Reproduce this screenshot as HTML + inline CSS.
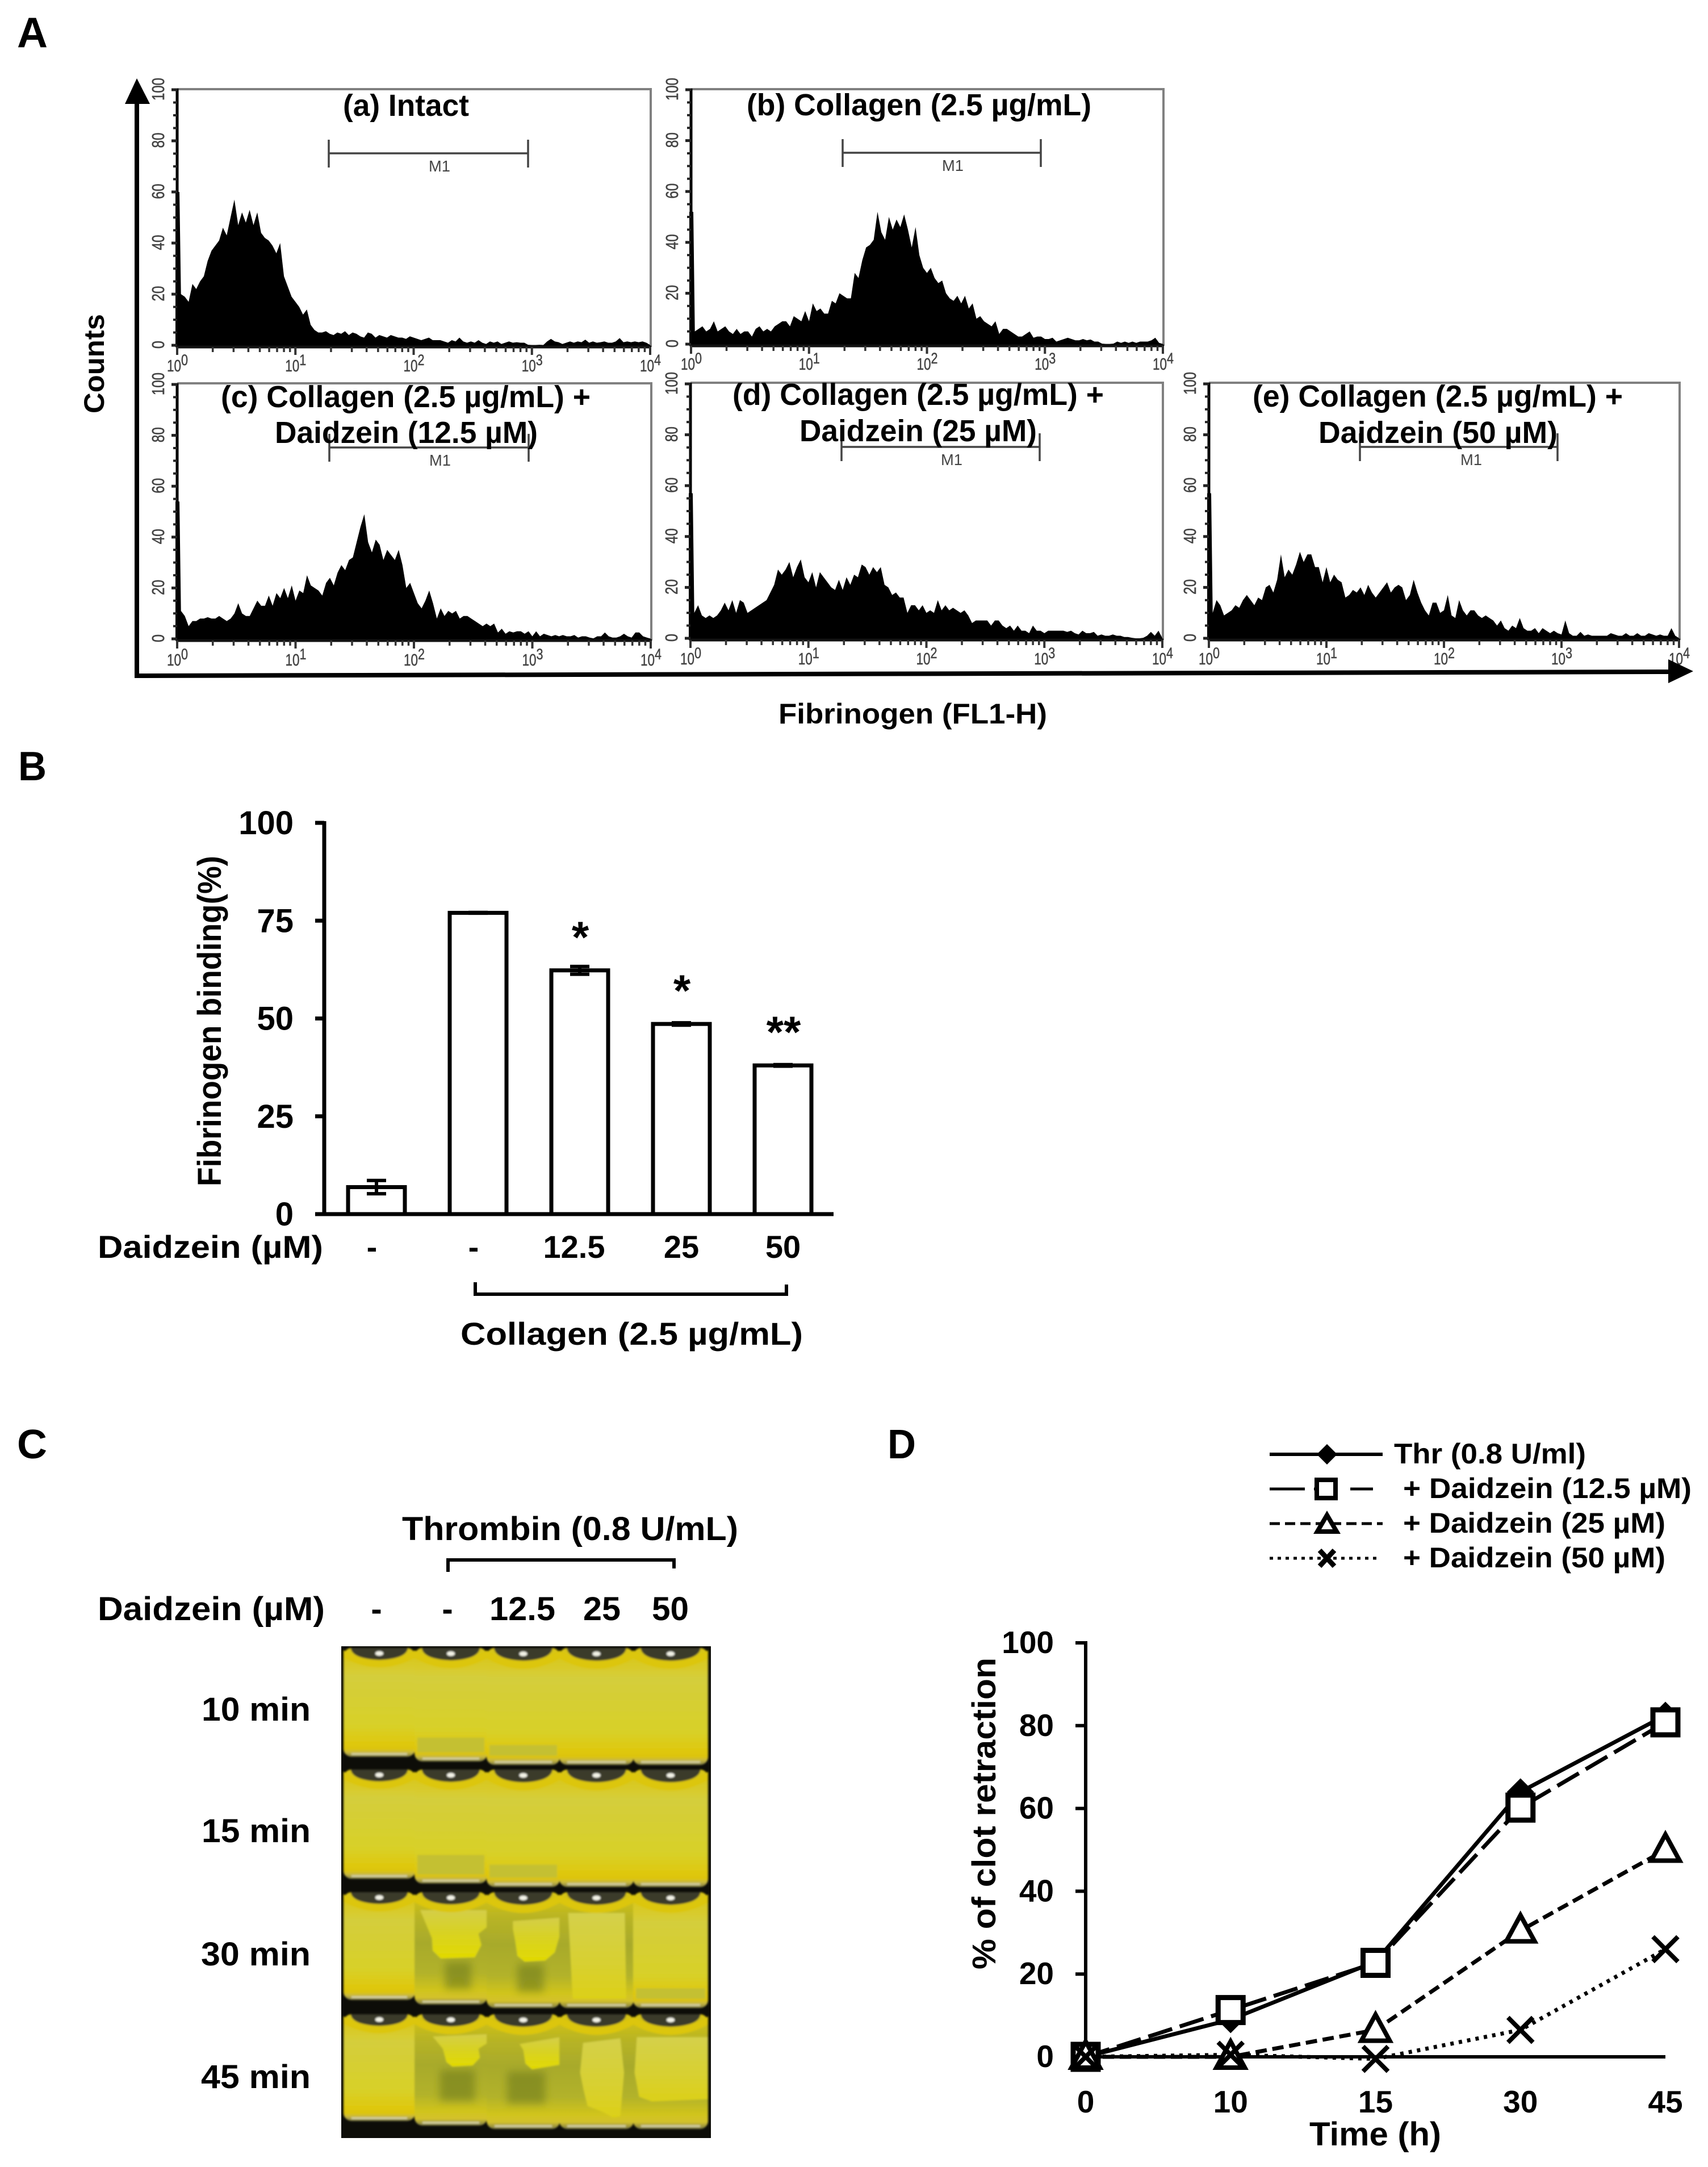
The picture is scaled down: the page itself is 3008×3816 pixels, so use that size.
<!DOCTYPE html>
<html lang="en">
<head>
<meta charset="utf-8">
<title>Daidzein fibrinogen binding and clot retraction figure</title>
<style>
html,body{margin:0;padding:0;background:#fff}
svg{display:block;font-family:"Liberation Sans",sans-serif}
.bold{font-weight:700;fill:#000}
</style>
</head>
<body>
<svg id="figure" xmlns="http://www.w3.org/2000/svg" width="3008" height="3816" viewBox="0 0 3008 3816">
<defs>
<linearGradient id="plainVial" x1="0" y1="0" x2="0" y2="1">
<stop offset="0" stop-color="#d8c410"/><stop offset=".2" stop-color="#d8cc30"/><stop offset=".26" stop-color="#d4ce3c"/>
<stop offset=".72" stop-color="#d8d028"/><stop offset=".88" stop-color="#dfc80e"/><stop offset=".93" stop-color="#dcc410"/><stop offset=".96" stop-color="#c8b840"/><stop offset="1" stop-color="#7c7a48"/>
</linearGradient>
<linearGradient id="clearVial" x1="0" y1="0" x2="0" y2="1">
<stop offset="0" stop-color="#d8c410"/><stop offset=".22" stop-color="#b8b424"/><stop offset=".45" stop-color="#a8aa2c"/>
<stop offset=".72" stop-color="#b2b22a"/><stop offset=".87" stop-color="#d0c41c"/><stop offset=".94" stop-color="#d4c22c"/><stop offset="1" stop-color="#7c7a48"/>
</linearGradient>
<linearGradient id="clotFill" x1="0" y1="0" x2="0" y2="1">
<stop offset="0" stop-color="#d4ce48"/><stop offset=".45" stop-color="#d8d224"/><stop offset="1" stop-color="#e2da00"/>
</linearGradient>
<linearGradient id="paleClot" x1="0" y1="0" x2="0" y2="1">
<stop offset="0" stop-color="#d4d04a"/><stop offset=".6" stop-color="#d8d030"/><stop offset="1" stop-color="#dcd018"/>
</linearGradient>
<filter id="photoSoften" x="-2%" y="-2%" width="104%" height="104%"><feGaussianBlur stdDeviation="1.6"/></filter>
<filter id="serumSoften" x="-30%" y="-30%" width="160%" height="160%"><feGaussianBlur stdDeviation="7"/></filter>
</defs>
<g id="panel-a">
<text class="bold" x="30" y="83" font-size="75" textLength="54" lengthAdjust="spacingAndGlyphs">A</text>
<g id="histograms"></g>
<text class="bold" transform="translate(183,728) rotate(-90)" font-size="50" textLength="175" lengthAdjust="spacingAndGlyphs">Counts</text>
<text class="bold" x="1371" y="1274" font-size="50" textLength="473" lengthAdjust="spacingAndGlyphs">Fibrinogen (FL1-H)</text>
<line x1="241" y1="1192" x2="241" y2="175" stroke="#000" stroke-width="8"/>
<polygon points="241,138 264,183 220,183" fill="#000"/>
<line x1="237" y1="1190" x2="2945" y2="1183" stroke="#000" stroke-width="8"/>
<polygon points="2982,1182 2938,1161 2938,1203" fill="#000"/>
</g>
<g id="panel-b">
<text class="bold" x="32" y="1374" font-size="72" textLength="50" lengthAdjust="spacingAndGlyphs">B</text>
<text class="bold" transform="translate(389,2089) rotate(-90)" font-size="58" textLength="582" lengthAdjust="spacingAndGlyphs">Fibrinogen binding(%)</text>
<text class="bold" x="172" y="2215" font-size="56" textLength="397" lengthAdjust="spacingAndGlyphs">Daidzein (µM)</text>
<path d="M837 2258V2279H1385V2262" fill="none" stroke="#000" stroke-width="6"/>
<text class="bold" x="811" y="2368" font-size="56" textLength="603" lengthAdjust="spacingAndGlyphs">Collagen (2.5 µg/mL)</text>
</g>
<g id="panel-c">
<text class="bold" x="30" y="2568" font-size="72" textLength="53" lengthAdjust="spacingAndGlyphs">C</text>
<text class="bold" x="708" y="2712" font-size="58" textLength="592" lengthAdjust="spacingAndGlyphs">Thrombin (0.8 U/mL)</text>
<path d="M789 2768V2747H1187V2762" fill="none" stroke="#000" stroke-width="6"/>
<text class="bold" x="172" y="2853" font-size="58" textLength="400" lengthAdjust="spacingAndGlyphs">Daidzein (µM)</text>
<text class="bold" x="663" y="2853" font-size="58" text-anchor="middle">-</text>
<text class="bold" x="788" y="2853" font-size="58" text-anchor="middle">-</text>
<text class="bold" x="862" y="2853" font-size="58" textLength="116" lengthAdjust="spacingAndGlyphs">12.5</text>
<text class="bold" x="1027" y="2853" font-size="58" textLength="66" lengthAdjust="spacingAndGlyphs">25</text>
<text class="bold" x="1148" y="2853" font-size="58" textLength="65" lengthAdjust="spacingAndGlyphs">50</text>
<text class="bold" x="355" y="3030" font-size="58" textLength="192" lengthAdjust="spacingAndGlyphs">10 min</text>
<text class="bold" x="355" y="3244" font-size="58" textLength="192" lengthAdjust="spacingAndGlyphs">15 min</text>
<text class="bold" x="354" y="3461" font-size="58" textLength="193" lengthAdjust="spacingAndGlyphs">30 min</text>
<text class="bold" x="354" y="3677" font-size="58" textLength="193" lengthAdjust="spacingAndGlyphs">45 min</text>
<rect x="601" y="2899" width="651" height="866" fill="#0d0d08"/>
<g id="vials" filter="url(#photoSoften)"></g>
</g>
<g id="panel-d">
<text class="bold" x="1563" y="2568" font-size="72" textLength="50" lengthAdjust="spacingAndGlyphs">D</text>
<text class="bold" transform="translate(1753,3468) rotate(-90)" font-size="58" textLength="549" lengthAdjust="spacingAndGlyphs">% of clot retraction</text>
<text class="bold" x="2306" y="3778" font-size="58" textLength="232" lengthAdjust="spacingAndGlyphs">Time (h)</text>
<g>
<g>
<line x1="2236" y1="2561" x2="2435" y2="2561" stroke="#000" stroke-width="6"/>
<polygon points="2337,2543 2355,2561 2337,2579 2319,2561" fill="#000"/>
<text class="bold" x="2455" y="2577" font-size="50" textLength="338" lengthAdjust="spacingAndGlyphs">Thr (0.8 U/ml)</text>
</g>
<g>
<line x1="2236" y1="2622" x2="2435" y2="2622" stroke="#000" stroke-width="5" stroke-dasharray="62 16 40 24 40"/>
<rect x="2319" y="2606" width="33" height="32" fill="#fff" stroke="#000" stroke-width="8"/>
<text class="bold" x="2471" y="2638" font-size="50" textLength="508" lengthAdjust="spacingAndGlyphs">+ Daidzein (12.5 µM)</text>
</g>
<g>
<line x1="2236" y1="2683" x2="2435" y2="2683" stroke="#000" stroke-width="5" stroke-dasharray="18 9"/>
<polygon points="2337,2668 2354,2697 2320,2697" fill="#fff" stroke="#000" stroke-width="8"/>
<text class="bold" x="2471" y="2699" font-size="50" textLength="462" lengthAdjust="spacingAndGlyphs">+ Daidzein (25 µM)</text>
</g>
<g>
<line x1="2236" y1="2744" x2="2430" y2="2744" stroke="#000" stroke-width="5" stroke-dasharray="6 8"/>
<path d="M2324 2730L2350 2758M2350 2730L2324 2758" stroke="#000" stroke-width="9"/>
<text class="bold" x="2471" y="2760" font-size="50" textLength="462" lengthAdjust="spacingAndGlyphs">+ Daidzein (50 µM)</text>
</g>
</g>
</g>
<g id="titles">
<text class="bold" x="604" y="204" font-size="54" textLength="222" lengthAdjust="spacingAndGlyphs">(a) Intact</text>
<text class="bold" x="1315" y="203" font-size="54" textLength="607" lengthAdjust="spacingAndGlyphs">(b) Collagen (2.5 µg/mL)</text>
<text class="bold" x="389" y="717" font-size="54" textLength="651" lengthAdjust="spacingAndGlyphs">(c) Collagen (2.5 µg/mL) +</text>
<text class="bold" x="484" y="780" font-size="54" textLength="463" lengthAdjust="spacingAndGlyphs">Daidzein (12.5 µM)</text>
<text class="bold" x="1290" y="713" font-size="54" textLength="654" lengthAdjust="spacingAndGlyphs">(d) Collagen (2.5 µg/mL) +</text>
<text class="bold" x="1408" y="777" font-size="54" textLength="418" lengthAdjust="spacingAndGlyphs">Daidzein (25 µM)</text>
<text class="bold" x="2206" y="716" font-size="54" textLength="652" lengthAdjust="spacingAndGlyphs">(e) Collagen (2.5 µg/mL) +</text>
<text class="bold" x="2322" y="780" font-size="54" textLength="421" lengthAdjust="spacingAndGlyphs">Daidzein (50 µM)</text>
</g>
</svg>
<script>
/* ---------- Panel A data: event counts per channel bin ---------- */
const countsIntact = [
60,20,19,17,24,22,25,27,33,37,
39,41,46,43,50,57,47,52,48,53,
47,52,44,42,41,39,36,40,27,23,
19,17,15,12,14,8,6,5,5,5.5,
4.5,4,5,4.5,5.5,4,5,4.5,3.5,3,
5,4.5,3,4,3.5,3,4,3.5,3,3,
2.5,3.5,3,2.5,2,2.5,3,2,2,2,
1.5,1,2,1.5,3,1.5,1,1.5,1,2,
1,.5,1.5,1,1.5,.5,1,1.5,1,1.2,
1,1,.2,.1,.1,.2,.1,1.5,2.5,1.5,
1.2,.5,1,1.5,1,1.5,1.2,2.2,1,1.5,
1,1.2,1.5,1,1,1.5,2.8,1.2,1.5,1.2,
1.5,1.2,1.5,1,.1];
const countsCollagen = [
52,5,6,7,5,6,9,5,6,7,
5,4,6,4,5,5,3,6,7,5,
6,5,7,8,9,9,7,11,10,9,
13,9,16,13,14,12,12,17,16,20,
19,18,18,28,26,33,38,39,41,52,
44,41,50,45,49,46,51,45,38,46,
35,30,28,30,26,24,25,20,18,17,
19,16,19,14,16,10,11,9,8,7,
9,4,6,6,5,4,3,3,4,5,
2.5,3,3,2,2,2.5,1,1.5,2,2.5,
2,1.5,1.5,2,1.5,1.8,1,1,.2,.1,
.1,.2,1,.5,1,.5,1,.5,1,1,
1,1.5,2.5,.5,.1];
const countsDaidzein12 = [
54,11,9,5,7,7,8,8,8.5,8,
8,9,8,7,8,10,14,10,9,9,
12,15,13,13,17,13,18,16,20,16,
21,15,19,18,25,21,20,19,17,22,
24,21,26,29,27,31,32,38,44,49,
38,34,39,37,31,35,33,31,35,29,
20,22,18,14,12,15,19,14,8,12,
9,11,10,11,8,9,9,8,7,6,
5,6,5,6,2.5,4,2,3,2.5,3,
3,2,3,1,3,1,2,1.5,1,1.5,
1,1.5,1,1,1.5,.5,1,1,.5,.2,
1,1,2.5,1,.5,.5,1,2,1,.5,
2.5,2.5,1,.5,.1];
const countsDaidzein25 = [
57,10,13,9,8,9,8,9,11,14,
11,15,10,15,14,10,11,12,13,14,
15,18,21,27,25,27,30,24,28,31,
24,22,26,20,26,24,22,20,19,23,
19,24,21,25,24,29,28,25,28,26,
28,21,20,17,18,16,16,10,13,13,
11,13,10,11,10,15,11,13,11,12,
11,10,11,9,6,7,7,7,7,5,
7,7,5,4,5,3,5,3,3,2,
5,3,3,2,3,3,3,3,3,2.5,
3,2,1.5,3,2,2,2.5,1,1.5,1,
1,1.5,1,1,.5,.5,.2,0,0,.2,
1,2.5,1,3,.1];
const countsDaidzein50 = [
57,10,15,13,9,10,11,13,12,15,
17,15,13,16,15,20,21,18,23,33,
24,27,25,29,34,30,33,33,28,28,
22,28,22,25,23,22,16,17,19,18,
20,17,21,18,16,18,20,22,18,20,
21,20,15,17,23,18,14,11,9,14,
14,10,11,17,9,8,15,11,9,11,
11,9,8,9,8,7,5,7,4,3,
5,4,8,4,3,3,4,2,4,3,
2,3,2,1.5,7,2,1,1,2.5,1,
1.5,1,1,1,1,1,2,1.5,1,1,
2,1,1,2,1,1,2,1.5,1,1.5,
1,1,4,1,.1];
const histogramCountTicks = [0,20,40,60,80,100];
const histogramDecades = [0,1,2,3,4];
const markerLabel = 'M1';

/* ---------- Panel B data ---------- */
const doseCategories = ['-','-','12.5','25','50'];
const bindingValues = [6.9,77,62.3,48.6,38];
const bindingErrors = [1.7,.1,1,.3,.2];
const bindingSignificance = ['','','*','*','**'];
const bindingTicks = [0,25,50,75,100];

/* ---------- Panel D data ---------- */
const timeCategories = ['0','10','15','30','45'];
const retractionThrombin = [0,9,23,64,82.5];
const retractionDaidzein12 = [0,11.3,22.7,60.2,80.8];
const retractionDaidzein25 = [0,0,6.5,30.5,50];
const retractionDaidzein50 = [0,.5,-.5,6.5,26];
const retractionTicks = [0,20,40,60,80,100];

const NS = 'http://www.w3.org/2000/svg';
function svgEl(tag, attrs, parent, content){
  const el = document.createElementNS(NS, tag);
  for (const k in attrs) el.setAttribute(k, attrs[k]);
  if (content !== undefined) el.textContent = content;
  parent.appendChild(el);
  return el;
}

/* ---------- Panel A drawing ---------- */
const histogramPanels = [
  {id:'a', counts:countsIntact, left:312, right:1145, top:158, zero:608, frameTop:157, labelY:654, m1:[579,930], m1Y:270, m1Text:774},
  {id:'b', counts:countsCollagen, left:1217, right:2048, top:158, zero:606, frameTop:157, labelY:651, m1:[1484,1833], m1Y:269, m1Text:1678},
  {id:'c', counts:countsDaidzein12, left:312, right:1146, top:677, zero:1125, frameTop:675, labelY:1172, m1:[580,931], m1Y:788, m1Text:775},
  {id:'d', counts:countsDaidzein25, left:1216, right:2047, top:676, zero:1124, frameTop:674, labelY:1170, m1:[1482,1831], m1Y:787, m1Text:1676},
  {id:'e', counts:countsDaidzein50, left:2129, right:2957, top:676, zero:1124, frameTop:674, labelY:1170, m1:[2395,2743], m1Y:787, m1Text:2591}
];
const histRoot = document.getElementById('histograms');
histogramPanels.forEach(function(p){
  const g = svgEl('g', {}, histRoot);
  
  
  const xScale = function(decade){ return p.left + (p.right - p.left) * decade / 4; };
  const yScale = function(count){ return p.zero - (p.zero - p.top) * count / 100; };

  const frame = svgEl('path', {d:'M'+p.left+' '+p.frameTop+'H'+(p.right+1)+'V'+(p.zero+3), fill:'none', stroke:'#808080', 'stroke-width':4}, g);
  
  

  const n = p.counts.length;
  let d = 'M' + (p.left - 3) + ' ' + (p.zero + 3) + 'L' + (p.left - 3) + ' ' + yScale(p.counts[0]) + 'L' + (p.left + 4) + ' ' + yScale(p.counts[0]);
  for (let i = 1; i < n; i++) {
    d += 'L' + xScale(4 * i / (n - 1)).toFixed(1) + ' ' + yScale(p.counts[i]).toFixed(1);
  }
  d += 'L' + p.right + ' ' + (p.zero + 3) + 'Z';
  const area = svgEl('path', {d:d, fill:'#000'}, g);
  
  

  const yAxis = svgEl('line', {x1:p.left, y1:p.top - 2, x2:p.left, y2:p.zero + 4, stroke:'#000', 'stroke-width':5}, g);
  
  
  const xAxis = svgEl('line', {x1:p.left, y1:p.zero + 3, x2:p.right + 2, y2:p.zero + 3, stroke:'#111', 'stroke-width':5}, g);
  
  

  for (let c = 0; c <= 100; c += 5) {
    const major = c % 20 === 0;
    const tick = svgEl('line', {x1:p.left - (major ? 10 : 7), y1:yScale(c), x2:p.left, y2:yScale(c), stroke:'#222', 'stroke-width':major ? 5 : 4}, g);
    
    
  }
  histogramCountTicks.forEach(function(v){
    const label = svgEl('text', {transform:'translate(' + (p.left - 23) + ',' + (yScale(v) - 1) + ') rotate(-90)', 'text-anchor':'middle', 'font-size':31, fill:'#444', stroke:'#444', 'stroke-width':.6, textLength:String(v).length > 2 ? 40 : (v === 0 ? 14 : 27), lengthAdjust:'spacingAndGlyphs'}, g, String(v));
    
    
  });
  for (let dec = 0; dec < 4; dec++) {
    for (let m = 1; m < 10; m++) {
      const tx = xScale(dec + Math.log10(m));
      const tick = svgEl('line', {x1:tx, y1:p.zero + 3, x2:tx, y2:p.zero + (m === 1 ? 17 : 12), stroke:'#333', 'stroke-width':m === 1 ? 4 : 3.5}, g);
      
      
    }
  }
  const lastTick = svgEl('line', {x1:p.right, y1:p.zero + 3, x2:p.right, y2:p.zero + 17, stroke:'#333', 'stroke-width':4}, g);
  
  

  histogramDecades.forEach(function(e){
    const tx = xScale(e);
    const base = svgEl('text', {x:tx - 18, y:p.labelY, 'font-size':29, fill:'#444', stroke:'#444', 'stroke-width':.5, textLength:25, lengthAdjust:'spacingAndGlyphs'}, g, '10');
    
    
    const sup = svgEl('text', {x:tx + 7, y:p.labelY - 11, 'font-size':27, fill:'#444', stroke:'#444', 'stroke-width':.5, textLength:12, lengthAdjust:'spacingAndGlyphs'}, g, String(e));
    
    
  });

  const marker = svgEl('path', {d:'M'+p.m1[0]+' '+(p.m1Y-24)+'V'+(p.m1Y+25)+'M'+p.m1[0]+' '+p.m1Y+'H'+p.m1[1]+'M'+p.m1[1]+' '+(p.m1Y-24)+'V'+(p.m1Y+25), fill:'none', stroke:'#444', 'stroke-width':3.5}, g);
  
  
  const mText = svgEl('text', {x:p.m1Text, y:p.m1Y + 32, 'font-size':28, 'text-anchor':'middle', fill:'#444', textLength:38, lengthAdjust:'spacingAndGlyphs'}, g, markerLabel);
  
  
});

/* ---------- Panel B drawing ---------- */
const panelB = document.getElementById('panel-b');
const xB = function(i){ return 663 + 179 * i; };
const yB = function(v){ return 2138 - v * 6.89; };
const doseNudge = [-8,-8,-10,0,0];
bindingValues.forEach(function(v, i){
  const bar = svgEl('rect', {x:xB(i) - 50, y:yB(v), width:100, height:yB(0) - yB(v), fill:'#fff', stroke:'#000', 'stroke-width':7}, panelB);
  
  
  const e = bindingErrors[i];
  const err = svgEl('path', {d:'M'+(xB(i)-17)+' '+yB(v+e)+'H'+(xB(i)+17)+'M'+xB(i)+' '+yB(v+e)+'V'+yB(v-e)+'M'+(xB(i)-17)+' '+yB(v-e)+'H'+(xB(i)+17), fill:'none', stroke:'#000', 'stroke-width':6}, panelB);
  
  
  const label = svgEl('text', {x:xB(i) + doseNudge[i], y:2215, 'text-anchor':'middle', 'font-size':56, 'font-weight':700}, panelB, doseCategories[i]);
  
  
  if (bindingSignificance[i]) {
    const star = svgEl('text', {x:xB(i) + 1, y:yB(v) - 32, 'text-anchor':'middle', 'font-size':78, 'font-weight':700}, panelB, bindingSignificance[i]);
    
    
  }
});
const bAxisY = svgEl('line', {x1:571, y1:yB(100) - 3, x2:571, y2:yB(0) + 3, stroke:'#000', 'stroke-width':7}, panelB);


const bAxisX = svgEl('line', {x1:555, y1:yB(0), x2:1468, y2:yB(0), stroke:'#000', 'stroke-width':7}, panelB);


bindingTicks.forEach(function(v){
  const tick = svgEl('line', {x1:555, y1:yB(v), x2:571, y2:yB(v), stroke:'#000', 'stroke-width':7}, panelB);
  
  
  const label = svgEl('text', {x:517, y:yB(v) + 20, 'text-anchor':'end', 'font-size':58, 'font-weight':700}, panelB, String(v));
  
  
});

/* ---------- Panel C photo (painted approximation) ---------- */
const vialRoot = document.getElementById('vials');
const vialCols = [[605,126],[730,128],[857,129],[985,131],[1115,132]];
const vialRows = [[2902,206],[3116,207],[3332,204],[3547,202]];
const vialHeightScale = [.93,.97,1,1,1];
function polyPoints(x,y,w,h,pts){
  return pts.map(function(q){ return (x + q[0] * w).toFixed(1) + ',' + (y + q[1] * h).toFixed(1); }).join(' ');
}
const clotShapes = {
  '0-1':{line:.79}, '0-2':{line:.83},
  '1-1':{line:.75}, '1-2':{line:.81},
  '2-1':{pts:[[.08,.16],[1,.16],[1,.31],[.88,.37],[.92,.47],[.83,.58],[.36,.59],[.25,.52],[.24,.41],[.12,.225]], dark:[.42,.62,.36,.24]},
  '2-2':{pts:[[.36,.25],[1,.22],[1,.37],[.93,.52],[.8,.59],[.52,.6],[.42,.55],[.39,.42],[.36,.32]], dark:[.42,.62,.36,.24]},
  '2-3':{pts:[[.12,.18],[.88,.18],[.9,.92],[.18,.92]], fill:'url(#paleClot)'},
  '2-4':{line:.83},
  '3-1':{pts:[[.25,.2],[1,.18],[1,.26],[.88,.31],[.9,.39],[.8,.46],[.52,.47],[.44,.43],[.39,.31],[.29,.23]], dark:[.35,.5,.48,.28]},
  '3-2':{pts:[[.45,.26],[1,.2],[1,.44],[.62,.48],[.53,.43],[.5,.31]], dark:[.28,.5,.52,.28]},
  '3-3':{pts:[[.32,.25],[.82,.21],[.87,.51],[.82,.89],[.72,.9],[.58,.85],[.38,.8],[.33,.67],[.28,.51]], fill:'url(#paleClot)'},
  '3-4':{pts:[[.05,.2],[1,.2],[1,.74],[.25,.76],[.08,.72],[.02,.51]], fill:'url(#paleClot)'}
};
vialRows.forEach(function(row, r){
  vialCols.forEach(function(col, c){
    const key = r + '-' + c;
    const shape = clotShapes[key];
    const x = col[0], w = col[1], y = row[0], h = row[1] * vialHeightScale[c];
    const cx = x + w / 2;
    const vial = svgEl('rect', {x:x, y:y, width:w, height:h, rx:14, fill:shape && shape.pts ? 'url(#clearVial)' : 'url(#plainVial)'}, vialRoot);
    
    
    if (shape && shape.dark) {
      const dk = svgEl('rect', {x:x + shape.dark[0] * w, y:y + shape.dark[1] * h, width:shape.dark[2] * w, height:shape.dark[3] * h, fill:'#6f7c1c', opacity:.6, filter:'url(#serumSoften)'}, vialRoot);
      
      
    }
    if (shape && shape.pts) {
      const clot = svgEl('polygon', {points:polyPoints(x,y,w,h,shape.pts), fill:shape.fill || 'url(#clotFill)'}, vialRoot);
      
      
    }
    if (shape && shape.line) {
      const band = svgEl('rect', {x:x + 5, y:y + h * shape.line, width:w - 10, height:h * (.92 - shape.line), fill:'#c4c030'}, vialRoot);
      
      
    }
    const neck = svgEl('path', {d:'M'+(x+w*.1)+' '+y+'H'+(x+w*.9)+'Q'+(x+w*.88)+' '+(y+h*.1)+' '+cx+' '+(y+h*.11)+'Q'+(x+w*.12)+' '+(y+h*.1)+' '+(x+w*.1)+' '+y+'Z', fill:'#3a3a2c'}, vialRoot);
    
    
    const glint = svgEl('ellipse', {cx:cx, cy:y + h * .05, rx:7, ry:4, fill:'#f4f4e8'}, vialRoot);
    
    
    const meniscus = svgEl('path', {d:'M'+x+' '+(y+h*.02)+'Q'+cx+' '+(y+h*.2)+' '+(x+w)+' '+(y+h*.02)+'V'+(y+h*.09)+'Q'+cx+' '+(y+h*.27)+' '+x+' '+(y+h*.09)+'Z', fill:'#dcc608'}, vialRoot);
    
    
    const base = svgEl('line', {x1:x + 14, y1:y + h * .975, x2:x + w - 14, y2:y + h * .975, stroke:'#d8d4a8', 'stroke-width':3}, vialRoot);
    
    
  });
});

/* ---------- Panel D drawing ---------- */
const panelD = document.getElementById('panel-d');
const xD = function(i){ return 1912 + 255.25 * i; };
const yD = function(v){ return 3622 - v * 7.29; };
const dAxisY = svgEl('line', {x1:1912, y1:yD(100) - 3, x2:1912, y2:yD(0), stroke:'#000', 'stroke-width':6}, panelD);


const dAxisX = svgEl('line', {x1:1912, y1:yD(0), x2:xD(4), y2:yD(0), stroke:'#000', 'stroke-width':6}, panelD);


retractionTicks.forEach(function(v){
  if (v > 0) {
    const tick = svgEl('line', {x1:1894, y1:yD(v), x2:1912, y2:yD(v), stroke:'#000', 'stroke-width':6}, panelD);
    
    
  }
  const label = svgEl('text', {x:1856, y:yD(v) + 18, 'text-anchor':'end', 'font-size':55, 'font-weight':700}, panelD, String(v));
  
  
});
timeCategories.forEach(function(t, i){
  const label = svgEl('text', {x:xD(i), y:3720, 'text-anchor':'middle', 'font-size':55, 'font-weight':700}, panelD, t);
  
  
});
function seriesPath(values){
  return values.map(function(v, i){ return (i ? 'L' : 'M') + xD(i).toFixed(1) + ' ' + yD(v).toFixed(1); }).join('');
}
const seriesLines = [
  {name:'thrombin', values:retractionThrombin, dash:'none', kind:'diamond'},
  {name:'daidzein-12-5', values:retractionDaidzein12, dash:'44 14', kind:'square'},
  {name:'daidzein-25', values:retractionDaidzein25, dash:'20 10', kind:'triangle'},
  {name:'daidzein-50', values:retractionDaidzein50, dash:'6 9', kind:'cross'}
];
seriesLines.forEach(function(s){
  const line = svgEl('path', {d:seriesPath(s.values), fill:'none', stroke:'#000', 'stroke-width':7, 'stroke-dasharray':s.dash}, panelD);
  
  
});
seriesLines.forEach(function(s){
  s.values.forEach(function(v, i){
    const x = xD(i), y = yD(v);
    let m;
    if (s.kind === 'diamond') m = svgEl('polygon', {points:x+','+(y-24)+' '+(x+24)+','+y+' '+x+','+(y+24)+' '+(x-24)+','+y, fill:'#000'}, panelD);
    if (s.kind === 'square') m = svgEl('rect', {x:x - 22, y:y - 22, width:44, height:44, fill:'#fff', stroke:'#000', 'stroke-width':9}, panelD);
    if (s.kind === 'triangle') m = svgEl('polygon', {points:x+','+(y-27)+' '+(x+25)+','+(y+19)+' '+(x-25)+','+(y+19), fill:'#fff', stroke:'#000', 'stroke-width':8}, panelD);
    if (s.kind === 'cross') m = svgEl('path', {d:'M'+(x-22)+' '+(y-22)+'L'+(x+22)+' '+(y+22)+'M'+(x+22)+' '+(y-22)+'L'+(x-22)+' '+(y+22), fill:'none', stroke:'#000', 'stroke-width':8}, panelD);
    
    
  });
});
</script>
</body>
</html>
